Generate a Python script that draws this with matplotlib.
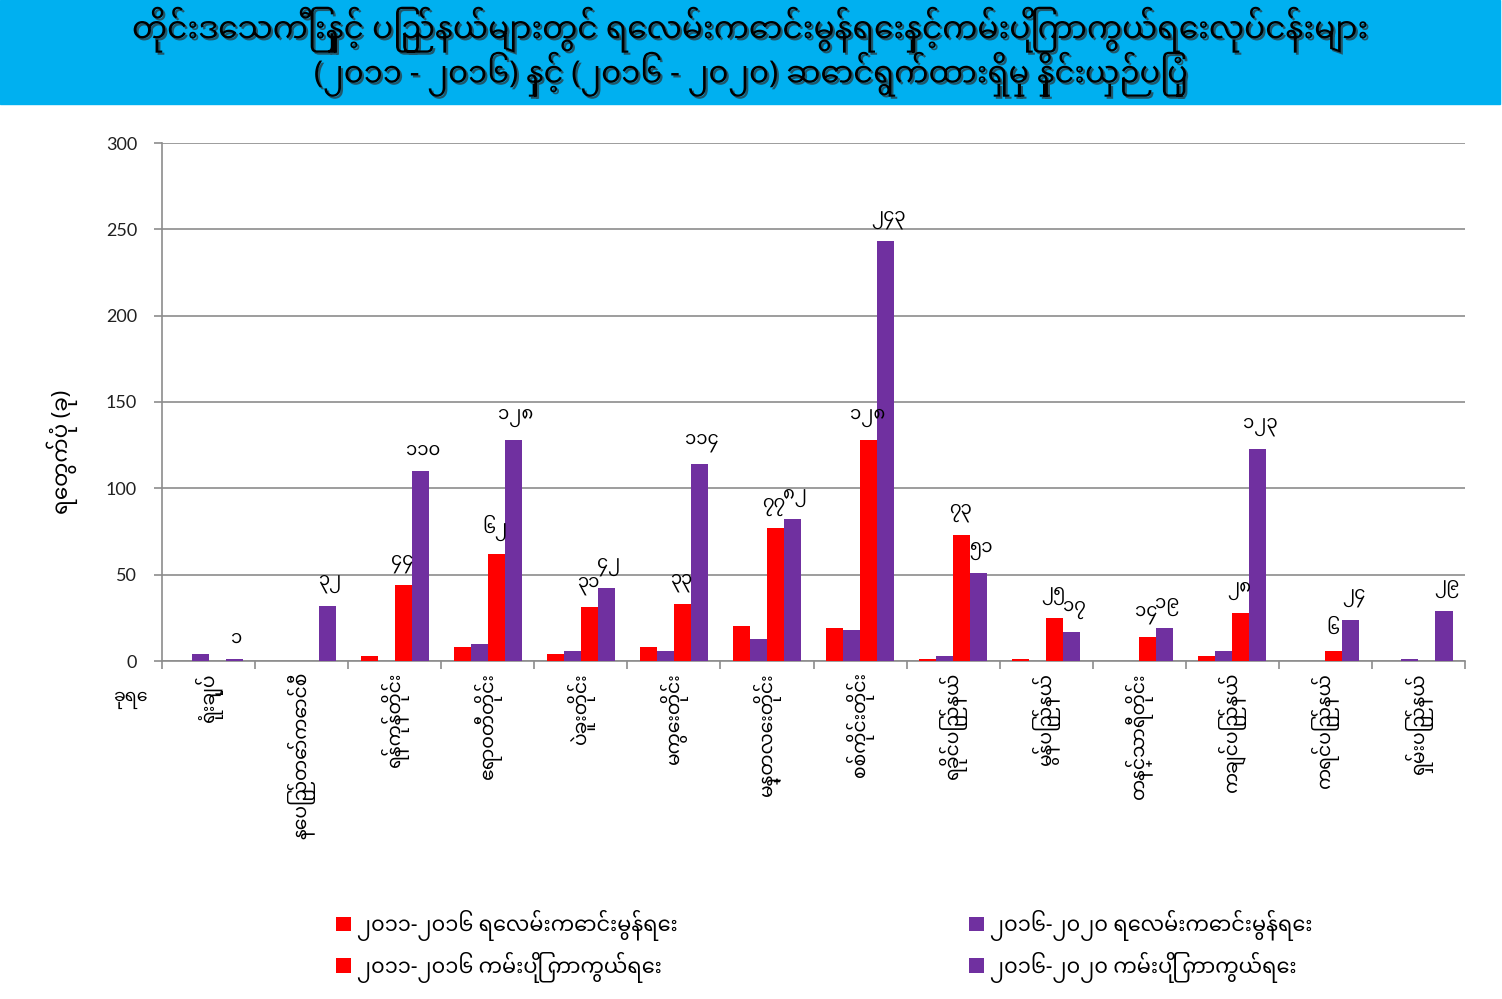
import matplotlib
matplotlib.use("Agg")
import matplotlib.pyplot as plt
import matplotlib.patheffects as pe
from matplotlib import font_manager
from matplotlib.ft2font import FT2Font
from matplotlib.patches import Rectangle
import numpy as np

# ---------------- data ----------------
categories = [
    "ရုံးချုပ်", "နေပြည်တော်ကောင်စီ", "ရန်ကုန်တိုင်း", "ဧရာဝတီတိုင်း",
    "ပဲခူးတိုင်း", "မကွေးတိုင်း", "မန္တလေးတိုင်း", "စစ်ကိုင်းတိုင်း",
    "ရခိုင်ပြည်နယ်", "မွန်ပြည်နယ်", "တနင်္သာရီတိုင်း", "ကချင်ပြည်နယ်",
    "ကရင်ပြည်နယ်", "ရှမ်းပြည်နယ်",
]
waterway_2011_2016 = [0, 0, 3, 8, 4, 8, 20, 19, 1, 1, 0, 3, 0, 0]
waterway_2016_2020 = [4, 0, 0, 10, 6, 6, 13, 18, 3, 0, 0, 6, 0, 1]
bank_2011_2016 = [0, 0, 44, 62, 31, 33, 77, 128, 73, 25, 14, 28, 6, 0]
bank_2016_2020 = [1, 32, 110, 128, 42, 114, 82, 243, 51, 17, 19, 123, 24, 29]

series_labels = [
    "၂၀၁၁-၂၀၁၆ ရေလမ်းကောင်းမွန်ရေး",
    "၂၀၁၆-၂၀၂၀ ရေလမ်းကောင်းမွန်ရေး",
    "၂၀၁၁-၂၀၁၆ ကမ်းပြို ကာကွယ်ရေး",
    "၂၀၁၆-၂၀၂၀ ကမ်းပြို ကာကွယ်ရေး",
]
title_lines = [
    "တိုင်းဒေသကြီးနှင့် ပြည်နယ်များတွင် ရေလမ်းကောင်းမွန်ရေးနှင့်ကမ်းပြိုကာကွယ်ရေးလုပ်ငန်းများ",
    "(၂၀၁၁ - ၂၀၁၆) နှင့် (၂၀၁၆ - ၂၀၂၀) ဆောင်ရွက်ထားရှိမှု နှိုင်းယှဉ်ပြပုံ",
]
y_label = "ရေတွက်ပုံ (ခု)"
x_corner_label = "ခုရေ"
y_ticks = [0, 50, 100, 150, 200, 250, 300]

# ---------------- fonts ----------------
def find_myanmar_font():
    preferred = ["Noto Sans Myanmar", "Padauk", "Myanmar Text", "Pyidaungsu", "Myanmar3"]
    found = []
    for f in font_manager.fontManager.ttflist:
        try:
            ft = FT2Font(f.fname)
            if 0x1000 in ft.get_charmap():
                found.append(f.name)
        except Exception:
            pass
    for p in preferred:
        if p in found:
            return p
    return found[0] if found else None

mm = find_myanmar_font()
fams = ([mm] if mm else []) + ["DejaVu Sans"]
plt.rcParams["font.family"] = fams

RED = "#FF0000"
PURPLE = "#7030A0"
GRID = "#8C8C8C"

W, H = 1502, 999
fig = plt.figure(figsize=(W / 100, H / 100), dpi=100)

# title band
fig.patches.append(Rectangle((0, 1 - 104 / H), 1500 / W, 104 / H,
                             transform=fig.transFigure, color="#00B0F0", zorder=0))
shadow = [pe.withSimplePatchShadow(offset=(1.5, -1.5), shadow_rgbFace="#303030", alpha=0.7)]
fig.text(0.5, 1 - 30 / H, title_lines[0], ha="center", va="center", fontsize=22.5,
         fontweight="bold", color="black", path_effects=shadow)
fig.text(0.5, 1 - 74 / H, title_lines[1], ha="center", va="center", fontsize=22,
         fontweight="bold", color="black", path_effects=shadow)

ax = fig.add_axes([162 / W, 1 - 661 / H, (1465 - 162) / W, (661 - 143) / H])
x = np.arange(len(categories))
w = 0.183
b1 = ax.bar(x - 1.5 * w, waterway_2011_2016, w, color=RED, zorder=3)
b2 = ax.bar(x - 0.5 * w, waterway_2016_2020, w, color=PURPLE, zorder=3)
b3 = ax.bar(x + 0.5 * w, bank_2011_2016, w, color=RED, zorder=3)
b4 = ax.bar(x + 1.5 * w, bank_2016_2020, w, color=PURPLE, zorder=3)

mm_digits = str.maketrans("0123456789", "၀၁၂၃၄၅၆၇၈၉")
for bars, vals, dx in ((b3, bank_2011_2016, -1), (b4, bank_2016_2020, 2)):
    for rect, v in zip(bars, vals):
        if v == 0:
            continue
        ax.annotate(str(v).translate(mm_digits),
                    (rect.get_x() + rect.get_width() / 2, rect.get_height()),
                    xytext=(dx, 9), textcoords="offset points",
                    ha="center", va="bottom", fontsize=13, color="black", zorder=5)

ax.set_xlim(-0.5, len(categories) - 0.5)
ax.set_ylim(0, 300)
ax.set_yticks(y_ticks)
ax.set_yticklabels([str(t) for t in y_ticks], fontsize=13, color="#202020",
                   family=["Lato", "DejaVu Sans"])
ax.yaxis.grid(True, color=GRID, linewidth=1.2, zorder=0)
ax.set_axisbelow(True)
ax.tick_params(axis="y", length=6, width=1.2, color=GRID, pad=12)

ax.set_xticks(x)
ax.set_xticklabels(categories, rotation=90, fontsize=13.5, va="top", ha="center")
ax.tick_params(axis="x", which="major", length=0, pad=8)
ax.set_xticks(np.arange(-0.5, len(categories), 1.0), minor=True)
ax.tick_params(axis="x", which="minor", length=6, width=1.2, color=GRID)

for s in ("top", "right"):
    ax.spines[s].set_visible(False)
for s in ("left", "bottom"):
    ax.spines[s].set_color(GRID)
    ax.spines[s].set_linewidth(1.2)

fig.text(62 / W, 1 - 452 / H, y_label, rotation=90, ha="center", va="center", fontsize=15.5)
fig.text(130 / W, 1 - 700 / H, x_corner_label, ha="center", va="center", fontsize=12.5)

common = dict(loc="upper left", frameon=False, fontsize=15, handlelength=0.7,
              handleheight=0.7, handletextpad=0.3, labelspacing=0.5, borderaxespad=0)
leg1 = fig.legend([b1, b3], [series_labels[0], series_labels[2]],
                  bbox_to_anchor=(328 / W, 1 - 902 / H), **common)
leg2 = fig.legend([b2, b4], [series_labels[1], series_labels[3]],
                  bbox_to_anchor=(961 / W, 1 - 902 / H), **common)

fig.savefig("out.png", dpi=100)
